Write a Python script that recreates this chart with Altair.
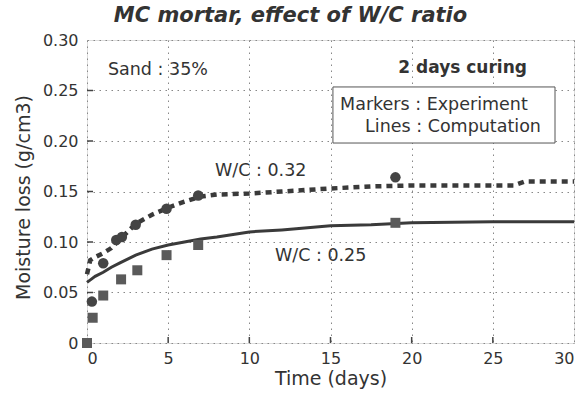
import altair as alt
import pandas as pd

# Experimental markers
t_exp_032 = [0.3, 1.0, 1.8, 2.15, 3.0, 4.9, 6.85, 19.0]
v_exp_032 = [0.041, 0.079, 0.102, 0.105, 0.117, 0.133, 0.146, 0.164]
t_exp_025 = [0.0, 0.35, 1.0, 2.1, 3.1, 4.9, 6.85, 19.0]
v_exp_025 = [0.0, 0.025, 0.047, 0.063, 0.072, 0.087, 0.097, 0.119]

# Computed lines
t_cmp_032 = [0, 0.2, 0.5, 1, 1.5, 2, 2.5, 3, 4, 5, 6, 7, 8, 10, 12, 15, 17.5, 20, 22.5, 25, 26.3, 27, 30]
v_cmp_032 = [0.068, 0.082, 0.085, 0.089, 0.094, 0.102, 0.110, 0.118, 0.127, 0.134, 0.140, 0.145, 0.147,
             0.148, 0.150, 0.153, 0.155, 0.156, 0.156, 0.156, 0.156, 0.160, 0.160]
t_cmp_025 = [0, 0.25, 0.5, 1, 1.5, 2, 3, 4, 5, 6, 7, 8, 10, 12, 15, 17.5, 20, 22.5, 25, 27.5, 30]
v_cmp_025 = [0.060, 0.063, 0.066, 0.070, 0.075, 0.079, 0.087, 0.093, 0.097, 0.100, 0.103, 0.105,
             0.110, 0.112, 0.116, 0.117, 0.119, 0.1195, 0.120, 0.120, 0.120]

x_ticks = [0, 5, 10, 15, 20, 25, 30]
y_ticks = [0, 0.05, 0.10, 0.15, 0.20, 0.25, 0.30]

# Annotations (data coordinates)
ann_text = ["Sand : 35%", "Markers : Experiment", "Lines : Computation", "W/C : 0.32", "W/C : 0.25"]
ann_t = [1.29, 15.59, 17.13, 7.885, 11.58]
ann_v = [0.2703, 0.2356, 0.2139, 0.1703, 0.0861]
bold_text = ["2 days curing"]
bold_t = [27.1]
bold_v = [0.2723]
box_t = [15.15]
box_t2 = [28.83]
box_v = [0.198]
box_v2 = [0.2535]

FONT = "DejaVu Sans"
W, H = 487, 303

xs = alt.Scale(domain=[0, 30], nice=False)
ys = alt.Scale(domain=[0, 0.30], nice=False)

xaxis = alt.Axis(values=x_ticks, title="Time (days)", grid=True, ticks=False, domain=False,
                 labelFont=FONT, labelFontSize=16, labelColor="#333", labelPadding=7,
                 titleFont=FONT, titleFontSize=19, titleFontWeight="normal", titleColor="#333",
                 titleY=35, titleBaseline="middle",
                 gridColor="#888", gridDash=[1.5, 4.5], gridWidth=1)
yaxis = alt.Axis(values=y_ticks, title="Moisture loss (g/cm3)", grid=True, ticks=False, domain=False,
                 labelExpr="datum.value == 0 ? '0' : format(datum.value, '.2f')",
                 labelFont=FONT, labelFontSize=16, labelColor="#333", labelPadding=9,
                 titleFont=FONT, titleFontSize=19, titleFontWeight="normal", titleColor="#333",
                 titleX=-64, titleY=157, titleAngle=-90, titleBaseline="middle",
                 gridColor="#888", gridDash=[1.5, 4.5], gridWidth=1)

box_df = pd.DataFrame({"t": box_t, "t2": box_t2, "v": box_v, "v2": box_v2})
box = alt.Chart(box_df).mark_rect(fill="white", stroke="#555", strokeWidth=1).encode(
    x=alt.X("t:Q", scale=xs, axis=xaxis), x2="t2:Q",
    y=alt.Y("v:Q", scale=ys, axis=yaxis), y2="v2:Q")

l032 = alt.Chart(pd.DataFrame({"t": t_cmp_032, "v": v_cmp_032})).mark_line(
    color="#3a3a3a", strokeWidth=4.5, strokeDash=[6, 5]).encode(
    x=alt.X("t:Q", scale=xs), y=alt.Y("v:Q", scale=ys))
l025 = alt.Chart(pd.DataFrame({"t": t_cmp_025, "v": v_cmp_025})).mark_line(
    color="#3a3a3a", strokeWidth=3).encode(
    x=alt.X("t:Q", scale=xs), y=alt.Y("v:Q", scale=ys))

p032 = alt.Chart(pd.DataFrame({"t": t_exp_032, "v": v_exp_032})).mark_point(
    shape="circle", filled=True, size=110, color="#444", opacity=1).encode(
    x=alt.X("t:Q", scale=xs), y=alt.Y("v:Q", scale=ys))
p025 = alt.Chart(pd.DataFrame({"t": t_exp_025, "v": v_exp_025})).mark_point(
    shape="square", filled=True, size=100, color="#5a5a5a", opacity=1).encode(
    x=alt.X("t:Q", scale=xs), y=alt.Y("v:Q", scale=ys))

txt = alt.Chart(pd.DataFrame({"t": ann_t, "v": ann_v, "s": ann_text})).mark_text(
    font=FONT, fontSize=17.5, color="#333", align="left", baseline="middle").encode(
    x=alt.X("t:Q", scale=xs), y=alt.Y("v:Q", scale=ys), text="s:N")
btxt = alt.Chart(pd.DataFrame({"t": bold_t, "v": bold_v, "s": bold_text})).mark_text(
    font=FONT, fontSize=17, fontWeight="bold", color="#333", align="right", baseline="middle").encode(
    x=alt.X("t:Q", scale=xs), y=alt.Y("v:Q", scale=ys), text="s:N")

xt = alt.Chart(pd.DataFrame({"t": x_ticks[1:-1]})).mark_rule(color="#444", strokeWidth=1.5).encode(
    x=alt.X("t:Q", scale=xs), y=alt.value(H), y2=alt.value(H - 6))
yt = alt.Chart(pd.DataFrame({"v": y_ticks[1:-1]})).mark_rule(color="#444", strokeWidth=1.5).encode(
    y=alt.Y("v:Q", scale=ys), x=alt.value(0), x2=alt.value(6))

chart = alt.layer(box, xt, yt, l025, l032, p025, p032, txt, btxt).properties(
    width=W, height=H,
    title=alt.TitleParams("MC mortar, effect of W/C ratio", font=FONT, fontSize=21,
                          fontWeight="bold", fontStyle="italic", color="#333",
                          anchor="middle", dx=-40, offset=6),
    autosize=alt.AutoSizeParams(type="none"),
    padding={"left": 87, "top": 40, "right": 11, "bottom": 51},
).configure_view(stroke="#444", strokeWidth=3).configure(background="white")

chart.save("out.html", embed_options={"renderer": "svg", "actions": False})
